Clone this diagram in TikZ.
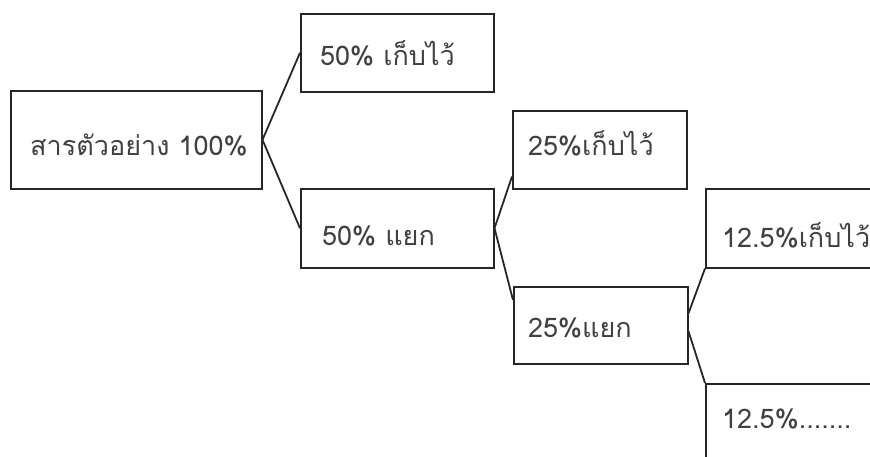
\documentclass[tikz,border=0pt]{standalone}
\usepackage{fontspec}
\newfontfamily\thaifont[Script=Thai]{Loma}
\begin{document}
\begin{tikzpicture}[x=1pt,y=-1pt,
  txt/.style={font=\thaifont\fontsize{27}{31}\selectfont, text=black!75,
    anchor=base west, inner sep=0pt},
  box/.style={draw=black!85, line width=1.5pt, rectangle, anchor=north west,
    inner sep=0pt},
  link/.style={draw=black!85, line width=1.8pt}]
\useasboundingbox (0,0) rectangle (870,456);
\clip (0,0) rectangle (870,456);
% boxes of the splitting scheme
\node[box, minimum width=251pt, minimum height=98pt] (A) at (10,90) {};
\node[box, minimum width=193pt, minimum height=78pt] (B) at (300,13) {};
\node[box, minimum width=193pt, minimum height=79pt] (C) at (300,188) {};
\node[box, minimum width=174pt, minimum height=78pt] (D) at (512,110) {};
\node[box, minimum width=174pt, minimum height=77pt] (E) at (513,286) {};
\node[box, minimum width=230pt, minimum height=79pt] (F) at (705,188) {};
\node[box, minimum width=230pt, minimum height=130pt] (G) at (705,383) {};
% box labels
\node[txt] (At) at (30,155) {สารตัวอย่าง 100\%};
\node[txt] (Bt) at (320,65) {50\% เก็บไว้};
\node[txt] (Ct) at (322,245) {50\% แยก};
\node[txt] (Dt) at (528,155) {25\%เก็บไว้};
\node[txt] (Et) at (528,337) {25\%แยก};
\node[txt] (Ft) at (722,247) {12.5\%เก็บไว้};
\node[txt] (Gt) at (722,428) {12.5\%.......};
% connectors
\draw[link] (A.east) -- (B.west);
\draw[link] (A.east) -- (C.west);
\draw[link] (C.east) -- ([yshift=13pt]D.south west);
\draw[link] (C.east) -- ([yshift=-14pt]E.north west);
\draw[link] ([yshift=12pt]E.east) -- (F.south west);
\draw[link] ([yshift=-6pt]E.east) -- (G.north west);
\end{tikzpicture}
\end{document}
